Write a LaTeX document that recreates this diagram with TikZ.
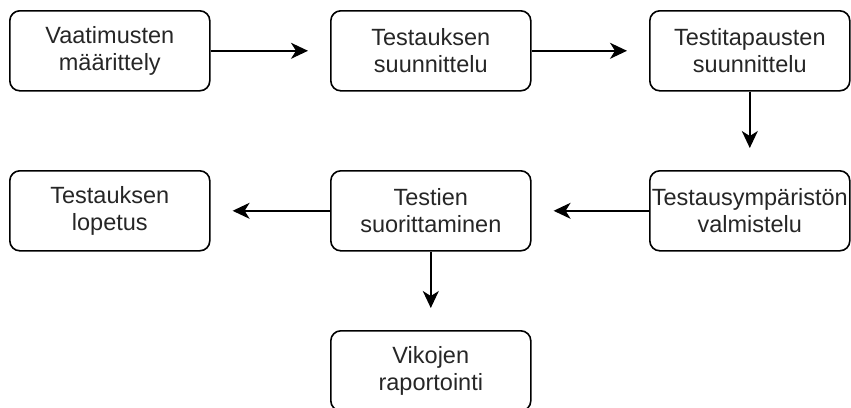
\documentclass[tikz,border=0pt]{standalone}
\usepackage{fontspec}
\setmainfont{Liberation Sans}
\usetikzlibrary{arrows.meta}
\begin{document}
\begin{tikzpicture}[x=1pt,y=-1pt,
  stepbox/.style={draw=black, line width=1.6pt, rounded corners=10pt, minimum width=200pt, minimum height=80pt, inner sep=0pt, align=center, text=black!85, font=\fontsize{23.5}{27}\selectfont, anchor=north west},
  conn/.style={line width=1.6pt, -{Stealth[length=17pt,width=16pt,inset=5pt]}, shorten >=22pt}]
\useasboundingbox (0,0) rectangle (851,407);
\node[stepbox] (a) at (9,10) {Vaatimusten\\määrittely};
\node[stepbox] (b) at (330,10) {Testauksen\\suunnittelu};
\node[stepbox] (c) at (649,10) {Testitapausten\\suunnittelu};
\node[stepbox] (d) at (649,170) {Testausympäristön\\valmistelu};
\node[stepbox] (e) at (330,170) {Testien\\suorittaminen};
\node[stepbox] (f) at (9,170) {Testauksen\\lopetus};
\node[stepbox] (g) at (330,330) {Vikojen\\raportointi};
\draw[conn] (a.east) -- (b.west);
\draw[conn] (b.east) -- (c.west);
\draw[conn] (c.south) -- (d.north);
\draw[conn] (d.west) -- (e.east);
\draw[conn] (e.west) -- (f.east);
\draw[conn] (e.south) -- (g.north);
\end{tikzpicture}
\end{document}
